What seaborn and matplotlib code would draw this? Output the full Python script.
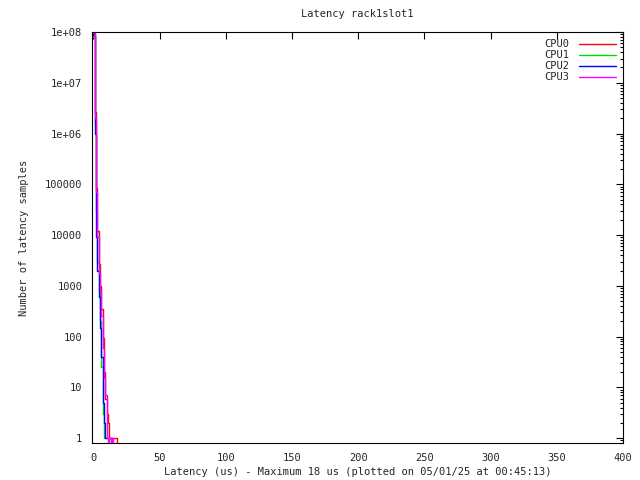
import matplotlib
matplotlib.use("Agg")
import matplotlib.pyplot as plt
from matplotlib.ticker import LogLocator, FixedLocator, NullFormatter
import seaborn as sns
import pandas as pd

# latency histogram (us -> sample count)
latency = list(range(19))
cpu0 = [8.5e7, 2.6e6, 8.5e4, 1.2e4, 2700, 1000, 350, 95, 20, 6, 3, 2, 1, 1, 1, 1, 1, 1, 0]
cpu1 = [8.0e7, 1.5e6, 3.0e4, 2900, 740, 200, 25, 3, 1, 1, 1, 1, 1, 0, 0, 0, 0, 0, 0]
cpu2 = [9.0e7, 1.0e6, 9.0e3, 2000, 600, 150, 40, 5, 2, 1, 1, 1, 1, 1, 0, 0, 0, 0, 0]
cpu3 = [9.5e7, 2.0e6, 7.0e4, 9.0e3, 1800, 800, 250, 60, 15, 7, 1, 0, 1, 0, 1, 0, 0, 0, 0]
series = {"CPU0": cpu0, "CPU1": cpu1, "CPU2": cpu2, "CPU3": cpu3}
colors = {"CPU0": "#ff0000", "CPU1": "#00e000", "CPU2": "#0000ff", "CPU3": "#ff00ff"}

rows = []
for name, vals in series.items():
    for x, v in zip(latency, vals):
        rows.append({"latency": x, "count": v, "cpu": name})
df = pd.DataFrame(rows)

sns.set_style("white")
plt.rcParams["font.family"] = ["DejaVu Sans Mono"]
plt.rcParams["font.size"] = 7.5

fig = plt.figure(figsize=(6.4, 4.8), dpi=100)
ax = fig.add_axes([92 / 640, 1 - 443 / 480, 531 / 640, 411 / 480])

sns.lineplot(data=df, x="latency", y="count", hue="cpu", palette=colors,
             estimator=None, drawstyle="steps-post", linewidth=1.0, ax=ax)

ax.set_yscale("log", nonpositive="clip")
ax.set_ylim(0.8, 1e8)
ax.set_xlim(-1, 400)
ax.xaxis.set_major_locator(FixedLocator([0, 50, 100, 150, 200, 250, 300, 350, 400]))
ax.yaxis.set_minor_locator(LogLocator(base=10, subs=range(2, 10), numticks=20))
ax.yaxis.set_minor_formatter(NullFormatter())
ax.set_yticks([10 ** i for i in range(9)])
ax.set_yticklabels(["1", "10", "100", "1000", "10000", "100000", "1e+06", "1e+07", "1e+08"])
ax.tick_params(which="both", direction="in", top=True, right=True, color="black")
ax.tick_params(which="major", length=5, width=0.8, pad=7)
ax.tick_params(which="minor", length=2.5, width=0.8)
for s in ax.spines.values():
    s.set_color("black")
    s.set_linewidth(0.8)

ax.set_title("Latency rack1slot1", fontsize=7.5, pad=11)
ax.set_xlabel("Latency (us) - Maximum 18 us (plotted on 05/01/25 at 00:45:13)", labelpad=3)
ax.set_ylabel("Number of latency samples", labelpad=11)

ax.legend(loc="upper right", frameon=False, markerfirst=False, handlelength=3.5,
          handletextpad=1.0, labelspacing=0.1, borderaxespad=0.3,
          title=None, fontsize=7.5)

fig.savefig("out.png", dpi=100)
